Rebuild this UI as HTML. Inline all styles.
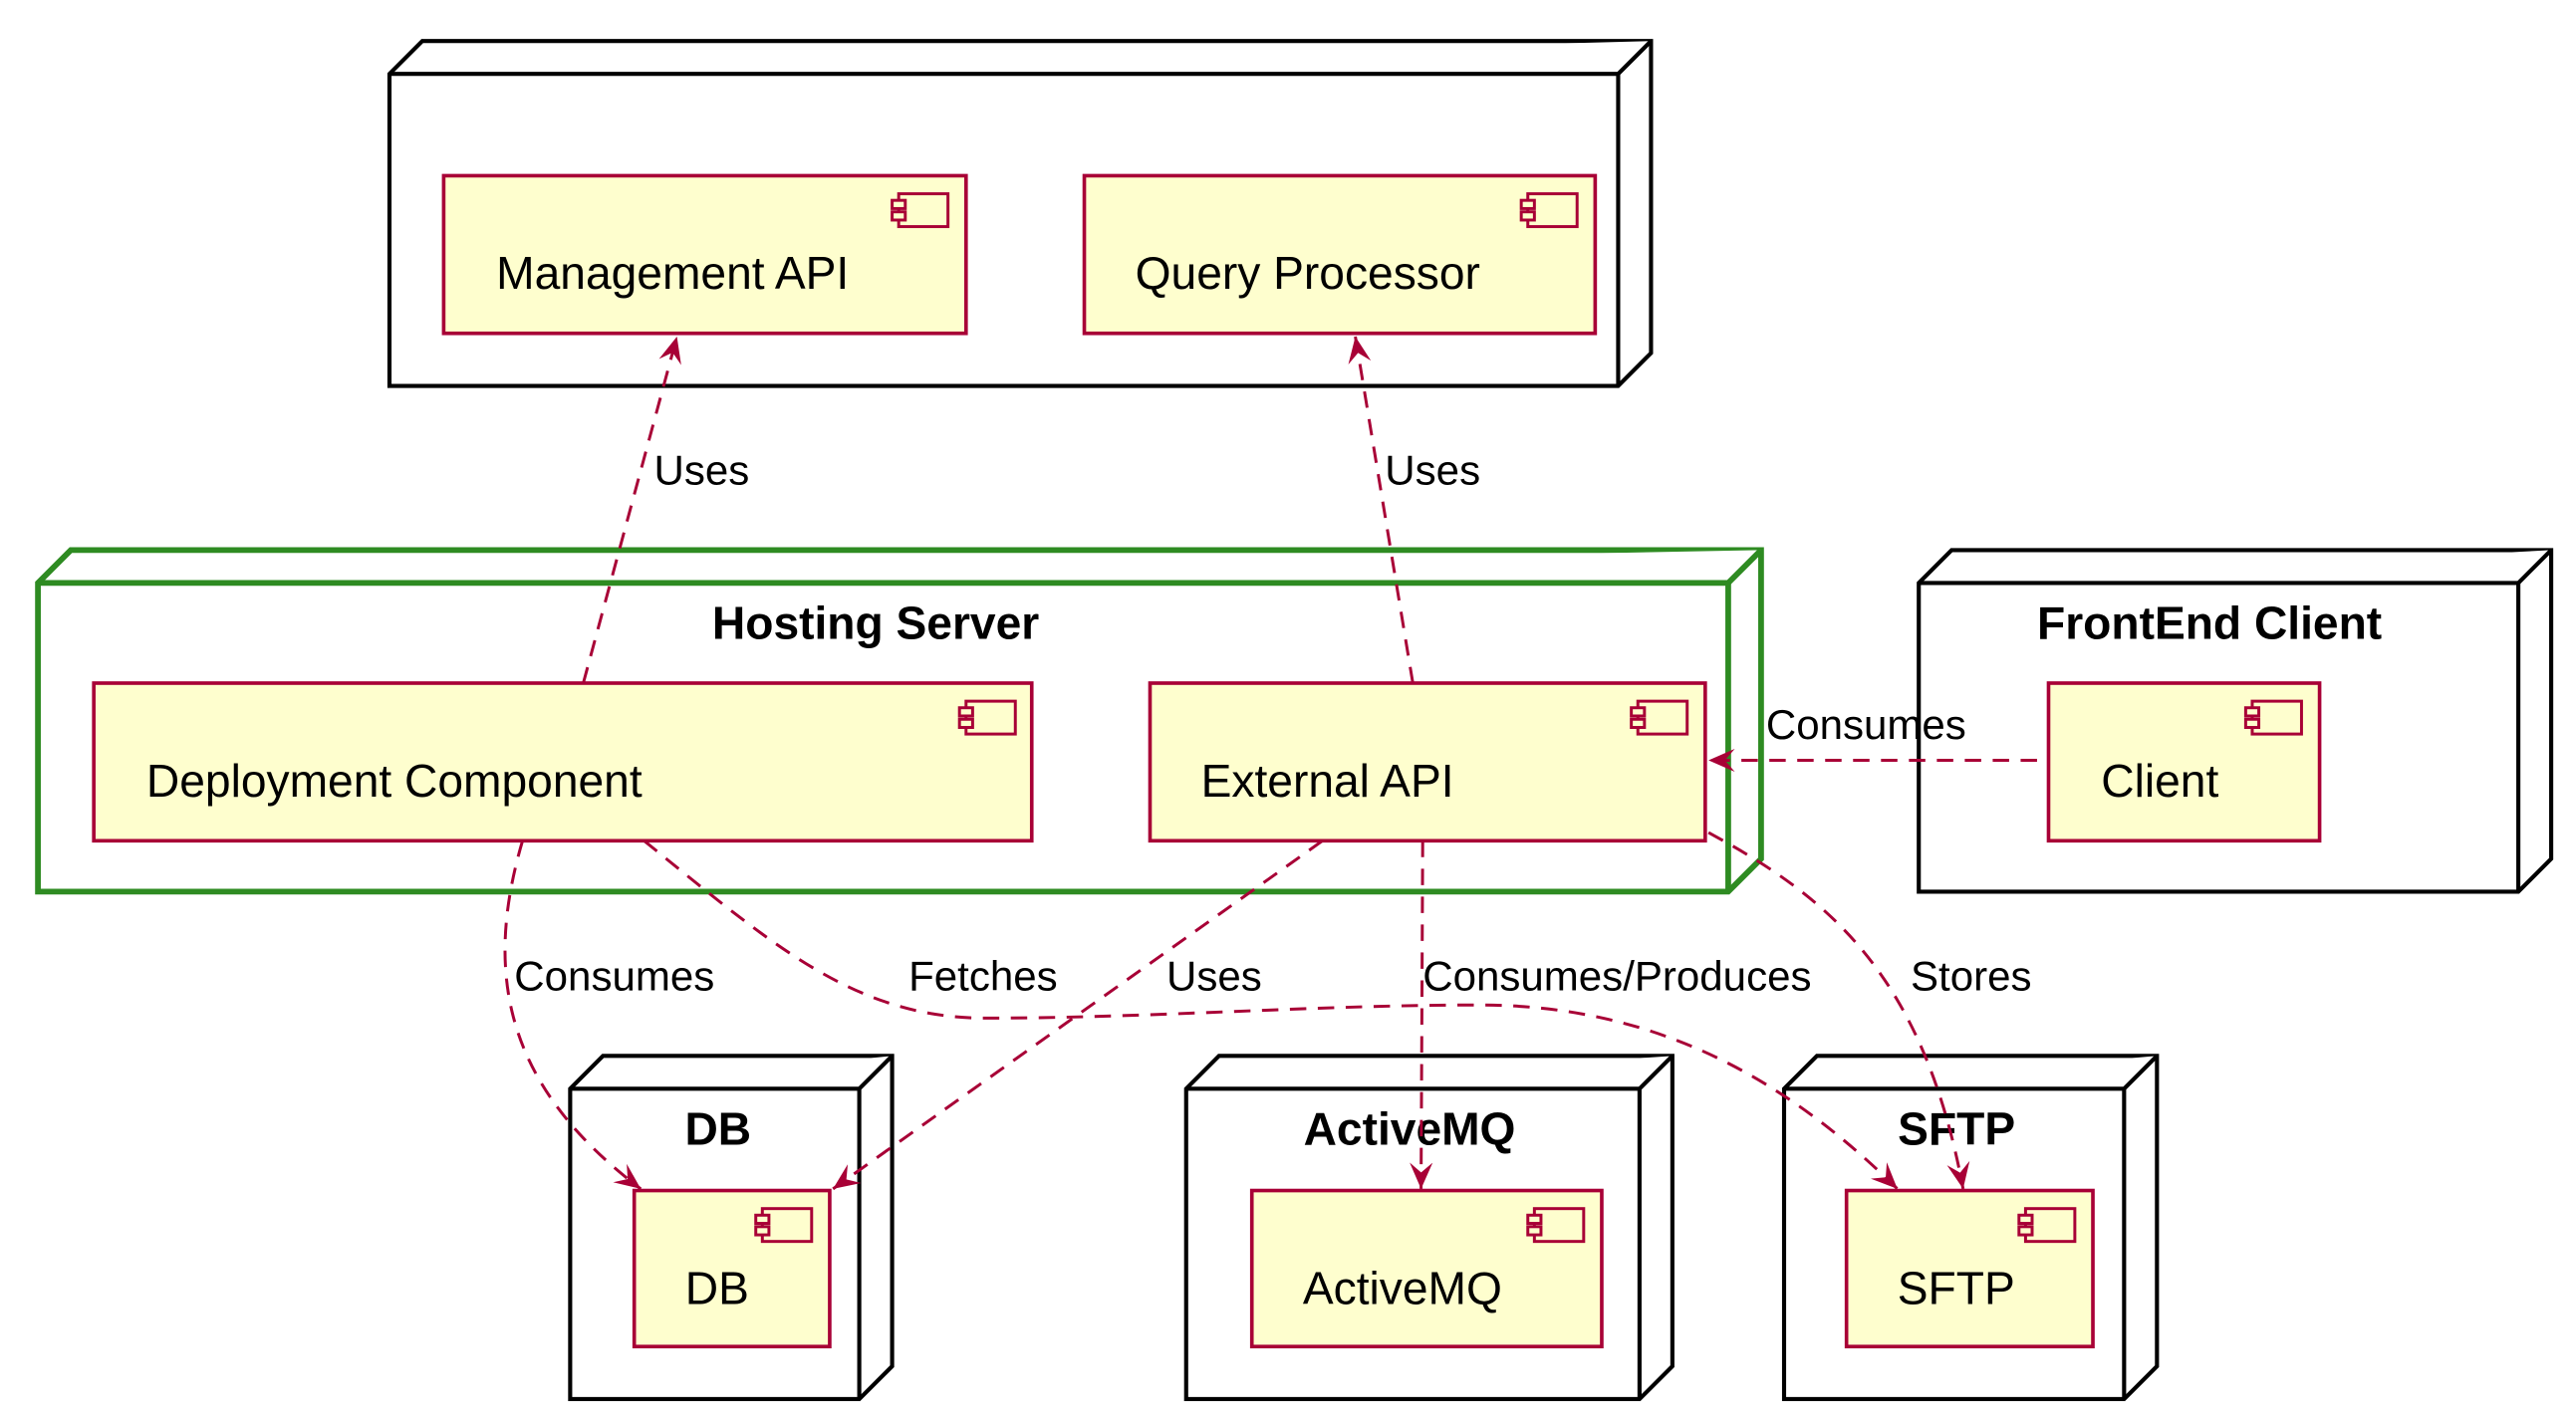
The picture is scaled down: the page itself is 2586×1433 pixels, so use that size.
<!DOCTYPE html>
<html><head><meta charset="utf-8"><style>
html,body{margin:0;padding:0;background:#fff;}
svg{display:block;}
text{font-family:"Liberation Sans",sans-serif;fill:#000;}
.c{fill:#FEFECE;stroke:#A80036;stroke-width:2.2;}
.n{fill:#fff;stroke:#000;stroke-width:2.5;}
.g{fill:#fff;stroke:#2E8B22;stroke-width:3.5;}
.e{fill:none;stroke:#A80036;stroke-width:1.8;stroke-dasharray:10,7;}
.t{font-size:28px;}
.l{font-size:25.5px;}
.h{font-size:28px;font-weight:bold;}
.ic{fill:#FEFECE;stroke:#A80036;stroke-width:1.8;}
</style></head><body>
<svg width="2586" height="1433" viewBox="0 0 1568 869" xmlns="http://www.w3.org/2000/svg">
<defs>
<marker id="a" markerWidth="18" markerHeight="14" refX="16" refY="7" orient="auto" markerUnits="userSpaceOnUse">
<path d="M0,0 L16,7 L0,14 L6,7 Z" fill="#A80036"/>
</marker>
</defs>

<polygon class="n" points="237,45 257,25 1005,25 1005,215 985,235 237,235"/>
<polyline class="n" points="237,45 985,45 1005,25" fill="none"/>
<line class="n" x1="985" y1="45" x2="985" y2="235"/>

<polygon class="g" points="23,355 43,335 1072,335 1072,523 1052,543 23,543"/>
<polyline class="g" points="23,355 1052,355 1072,335" fill="none"/>
<line class="g" x1="1052" y1="355" x2="1052" y2="543"/>
<text class="h" x="533" y="389" text-anchor="middle">Hosting Server</text>

<polygon class="n" points="1168,355 1188,335 1553,335 1553,523 1533,543 1168,543"/>
<polyline class="n" points="1168,355 1533,355 1553,335" fill="none"/>
<line class="n" x1="1533" y1="355" x2="1533" y2="543"/>
<text class="h" x="1345" y="389" text-anchor="middle">FrontEnd Client</text>

<polygon class="n" points="347,663 367,643 543,643 543,832 523,852 347,852"/>
<polyline class="n" points="347,663 523,663 543,643" fill="none"/>
<line class="n" x1="523" y1="663" x2="523" y2="852"/>
<text class="h" x="437" y="697" text-anchor="middle">DB</text>

<polygon class="n" points="722,663 742,643 1018,643 1018,832 998,852 722,852"/>
<polyline class="n" points="722,663 998,663 1018,643" fill="none"/>
<line class="n" x1="998" y1="663" x2="998" y2="852"/>
<text class="h" x="858" y="697" text-anchor="middle">ActiveMQ</text>

<polygon class="n" points="1086,663 1106,643 1313,643 1313,832 1293,852 1086,852"/>
<polyline class="n" points="1086,663 1293,663 1313,643" fill="none"/>
<line class="n" x1="1293" y1="663" x2="1293" y2="852"/>
<text class="h" x="1191" y="697" text-anchor="middle">SFTP</text>

<g>
<rect class="c" x="270" y="107" width="318" height="96"/>
<text class="t" x="302" y="176">Management API</text>
<rect class="c" x="660" y="107" width="311" height="96"/>
<text class="t" x="691" y="176">Query Processor</text>
<rect class="c" x="57" y="416" width="571" height="96"/>
<text class="t" x="89" y="485">Deployment Component</text>
<rect class="c" x="700" y="416" width="338" height="96"/>
<text class="t" x="731" y="485">External API</text>
<rect class="c" x="1247" y="416" width="165" height="96"/>
<text class="t" x="1279" y="485">Client</text>
<rect class="c" x="386" y="725" width="119" height="95"/>
<text class="t" x="417" y="794">DB</text>
<rect class="c" x="762" y="725" width="213" height="95"/>
<text class="t" x="793" y="794">ActiveMQ</text>
<rect class="c" x="1124" y="725" width="150" height="95"/>
<text class="t" x="1155" y="794">SFTP</text>
</g>

<g>
<g transform="translate(543,118)"><rect class="ic" x="4" y="0" width="30" height="20"/><rect class="ic" x="0" y="4" width="8" height="5"/><rect class="ic" x="0" y="11" width="8" height="5"/></g>
<g transform="translate(926,118)"><rect class="ic" x="4" y="0" width="30" height="20"/><rect class="ic" x="0" y="4" width="8" height="5"/><rect class="ic" x="0" y="11" width="8" height="5"/></g>
<g transform="translate(584,427)"><rect class="ic" x="4" y="0" width="30" height="20"/><rect class="ic" x="0" y="4" width="8" height="5"/><rect class="ic" x="0" y="11" width="8" height="5"/></g>
<g transform="translate(993,427)"><rect class="ic" x="4" y="0" width="30" height="20"/><rect class="ic" x="0" y="4" width="8" height="5"/><rect class="ic" x="0" y="11" width="8" height="5"/></g>
<g transform="translate(1367,427)"><rect class="ic" x="4" y="0" width="30" height="20"/><rect class="ic" x="0" y="4" width="8" height="5"/><rect class="ic" x="0" y="11" width="8" height="5"/></g>
<g transform="translate(460,736)"><rect class="ic" x="4" y="0" width="30" height="20"/><rect class="ic" x="0" y="4" width="8" height="5"/><rect class="ic" x="0" y="11" width="8" height="5"/></g>
<g transform="translate(930,736)"><rect class="ic" x="4" y="0" width="30" height="20"/><rect class="ic" x="0" y="4" width="8" height="5"/><rect class="ic" x="0" y="11" width="8" height="5"/></g>
<g transform="translate(1229,736)"><rect class="ic" x="4" y="0" width="30" height="20"/><rect class="ic" x="0" y="4" width="8" height="5"/><rect class="ic" x="0" y="11" width="8" height="5"/></g>
</g>

<path class="e" d="M355,416 L412,205" marker-end="url(#a)"/>
<path class="e" d="M860,416 L825,205" marker-end="url(#a)"/>
<path class="e" d="M1240,463 L1040,463" marker-end="url(#a)"/>
<path class="e" d="M318,512 C295,590 305,660 390,724" marker-end="url(#a)"/>
<path class="e" d="M805,512 L507,724" marker-end="url(#a)"/>
<path class="e" d="M392,512 C470,575 520,620 600,620 C700,620 800,612 900,612 C1000,612 1080,650 1155,724" marker-end="url(#a)"/>
<path class="e" d="M866,512 L865,724" marker-end="url(#a)"/>
<path class="e" d="M1040,507 C1110,545 1170,590 1195,724" marker-end="url(#a)"/>

<text class="l" x="398" y="295">Uses</text>
<text class="l" x="843" y="295">Uses</text>
<text class="l" x="1075" y="450">Consumes</text>
<text class="l" x="313" y="603">Consumes</text>
<text class="l" x="553" y="603">Fetches</text>
<text class="l" x="710" y="603">Uses</text>
<text class="l" x="866" y="603">Consumes/Produces</text>
<text class="l" x="1163" y="603">Stores</text>
</svg>
</body></html>
